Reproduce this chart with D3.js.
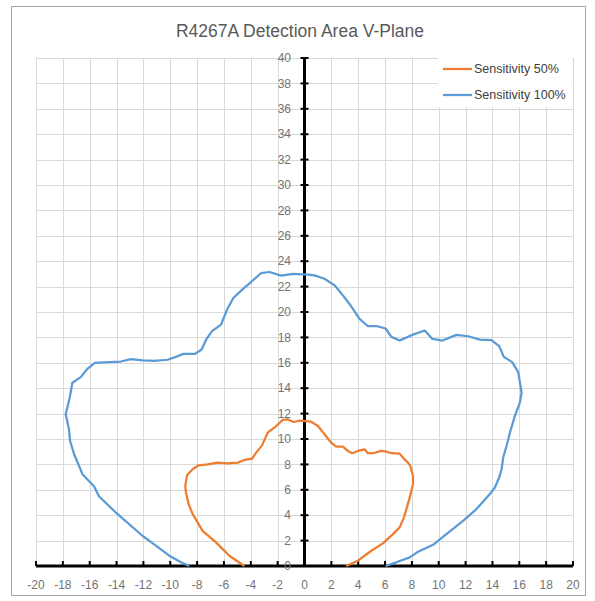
<!DOCTYPE html>
<html><head><meta charset="utf-8">
<script src="https://cdn.jsdelivr.net/npm/d3@7"></script>
<style>body{margin:0;background:#fff}svg{display:block}</style>
</head><body>
<script>
const title = "R4267A Detection Area V-Plane";
const xTicks = d3.range(-20, 21, 2);
const yTicks = d3.range(0, 41, 2);
const seriesNames = ["Sensitivity 50%", "Sensitivity 100%"];
const seriesColors = ["#ED7D31", "#5B9BD5"];

const orangeX = [-4.48,-5.6,-6.59,-7.59,-7.96,-8.33,-8.63,-8.83,-8.88,-8.75,-8.33,-7.89,-7.21,-6.47,-5.72,-4.98,-4.48,-3.9,-3.6,-3.16,-2.74,-2.11,-1.62,-1.25,-0.82,-0.37,0.5,1.0,1.49,1.99,2.36,2.86,3.23,3.56,3.98,4.48,4.73,5.1,5.72,6.1,6.47,7.09,7.39,7.71,7.88,8.08,8.08,7.84,7.59,7.41,7.09,6.59,5.84,4.98,3.98,3.11];
const orangeY = [0,0.81,1.86,2.77,3.43,4.08,4.87,5.79,6.31,7.15,7.62,7.93,8.01,8.14,8.09,8.14,8.35,8.46,8.93,9.5,10.5,11.02,11.5,11.55,11.34,11.45,11.36,11.02,10.37,9.71,9.4,9.4,9.06,8.88,9.06,9.19,8.88,8.88,9.06,9.01,8.88,8.85,8.46,8.14,7.88,7.09,6.44,5.4,4.48,3.83,3.04,2.51,1.78,1.2,0.42,0];

const blueX = [-8.58,-9.2,-10.07,-11.07,-12.07,-14.05,-15.3,-15.67,-16.54,-17.16,-17.46,-17.54,-17.79,-17.49,-17.29,-16.67,-16.17,-15.62,-14.55,-13.68,-12.93,-12.06,-11.19,-10.2,-9.58,-9.03,-8.16,-7.66,-7.34,-6.89,-6.22,-5.72,-5.3,-4.6,-3.98,-3.23,-2.61,-1.74,-0.87,0.25,0.75,1.49,2.24,2.86,3.48,4.1,4.73,5.42,6.04,6.47,7.09,8.08,8.96,9.53,10.27,11.32,12.19,13.06,13.93,14.5,14.85,15.47,15.92,16.17,16.04,15.67,15.3,15.05,14.8,14.68,14.5,14.18,13.81,12.81,11.81,10.57,9.58,8.46,7.84,6.84,6.04];
const blueY = [0,0.29,0.81,1.6,2.38,4.21,5.47,6.26,7.23,8.8,9.84,10.76,11.94,13.25,14.43,14.87,15.53,16.0,16.05,16.1,16.29,16.2,16.16,16.24,16.47,16.7,16.7,17.05,17.8,18.5,19.0,20.3,21.1,21.8,22.36,23.07,23.15,22.86,23.0,22.94,22.88,22.62,22.1,21.31,20.45,19.46,18.88,18.88,18.7,18.04,17.75,18.22,18.54,17.88,17.75,18.2,18.09,17.83,17.78,17.31,16.47,16.05,15.27,13.64,12.86,11.81,10.5,9.45,8.54,7.62,6.97,6.18,5.66,4.48,3.56,2.51,1.67,1.12,0.68,0.29,0];

const W = 595, H = 601;
const x = d3.scaleLinear().domain([-20, 20]).range([36, 573]);
const y = d3.scaleLinear().domain([0, 40]).range([566, 58]);
const font = "'Liberation Sans', Arial, sans-serif";

const svg = d3.select("body").append("svg").attr("width", W).attr("height", H);

svg.append("rect").attr("x", 11.5).attr("y", 6.5).attr("width", 574).attr("height", 589)
  .attr("fill", "#fff").attr("stroke", "#a6a6a6").attr("stroke-width", 1);

svg.append("text").attr("x", 300).attr("y", 37).attr("text-anchor", "middle")
  .attr("font-family", font).attr("font-size", 17.5).attr("fill", "#595959").text(title);

// gridlines
const grid = svg.append("g").attr("stroke", "#d9d9d9").attr("stroke-width", 1);
xTicks.forEach(t => grid.append("line").attr("x1", Math.round(x(t)) + 0.5).attr("x2", Math.round(x(t)) + 0.5)
  .attr("y1", y(40)).attr("y2", y(0)));
yTicks.forEach(t => grid.append("line").attr("y1", Math.round(y(t)) + 0.5).attr("y2", Math.round(y(t)) + 0.5)
  .attr("x1", x(-20)).attr("x2", x(20)));

// legend background
svg.append("rect").attr("x", 438).attr("y", 57).attr("width", 134).attr("height", 50).attr("fill", "#fff");

// axes
const axG = svg.append("g");
axG.append("line").attr("x1", x(0)).attr("x2", x(0)).attr("y1", y(40)).attr("y2", y(0))
  .attr("stroke", "#000").attr("stroke-width", 3);
axG.append("line").attr("x1", x(-20)).attr("x2", x(20)).attr("y1", y(0)).attr("y2", y(0))
  .attr("stroke", "#000").attr("stroke-width", 3);
yTicks.forEach(t => axG.append("line").attr("x1", x(0) - 4).attr("x2", x(0) + 4)
  .attr("y1", y(t)).attr("y2", y(t)).attr("stroke", "#000").attr("stroke-width", 2));
xTicks.forEach(t => axG.append("line").attr("x1", x(t)).attr("x2", x(t))
  .attr("y1", y(0) - 5).attr("y2", y(0)).attr("stroke", "#000").attr("stroke-width", 2));

// tick labels
yTicks.forEach(t => svg.append("text").attr("x", 291).attr("y", y(t)).attr("dy", "0.35em")
  .attr("text-anchor", "end").attr("font-family", font).attr("font-size", 12).attr("fill", "#737373").text(t));
xTicks.forEach(t => svg.append("text").attr("x", x(t)).attr("y", 585).attr("dy", "0.35em")
  .attr("text-anchor", "middle").attr("font-family", font).attr("font-size", 12).attr("fill", "#737373").text(t));

// series
const line = d3.line().x(d => x(d[0])).y(d => y(d[1]));
const series = [d3.zip(orangeX, orangeY), d3.zip(blueX, blueY)];
series.forEach((s, i) => svg.append("path").attr("d", line(s)).attr("fill", "none")
  .attr("stroke", seriesColors[i]).attr("stroke-width", 2.25).attr("stroke-linejoin", "round"));

// legend
const legY = [69, 95];
seriesNames.forEach((n, i) => {
  svg.append("line").attr("x1", 443).attr("x2", 472).attr("y1", legY[i]).attr("y2", legY[i])
    .attr("stroke", seriesColors[i]).attr("stroke-width", 2.25);
  svg.append("text").attr("x", 474).attr("y", legY[i]).attr("dy", "0.35em")
    .attr("font-family", font).attr("font-size", 12.5).attr("fill", "#404040").text(n);
});
</script>
</body></html>
